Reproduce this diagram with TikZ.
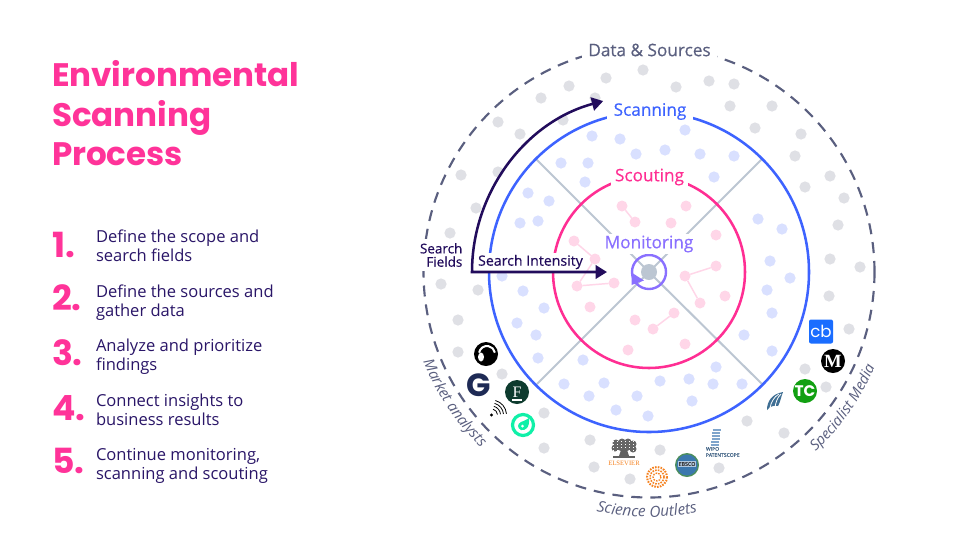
\documentclass[tikz,border=0pt]{standalone}
\usepackage{fontspec}
\setmainfont{Open Sans}
\newfontfamily\popp{Poppins}
\newfontfamily\osmed[FakeBold=0.4]{Open Sans}
\newfontfamily\lserif{Liberation Serif}
\usetikzlibrary{arrows.meta,decorations.text}
\definecolor{cpink}{HTML}{FF3399}
\definecolor{cnavy}{HTML}{2A1668}
\definecolor{cdeep}{HTML}{220C5C}
\definecolor{cslate}{HTML}{5A5F7F}
\definecolor{cblue}{HTML}{3D63FF}
\definecolor{cscout}{HTML}{FF2E93}
\definecolor{cmon}{HTML}{8A70FF}
\definecolor{dgray}{HTML}{DFE0E5}
\definecolor{dblue}{HTML}{D9E0FF}
\definecolor{dpink}{HTML}{FFD6E8}
\definecolor{cline}{HTML}{BCC6D2}
\definecolor{lgnavy}{HTML}{1E2A55}
\definecolor{lfgreen}{HTML}{0E3B2E}
\definecolor{lmint}{HTML}{10F0A8}
\definecolor{lorange}{HTML}{F58220}
\definecolor{lebsco}{HTML}{3B78AE}
\definecolor{lebedge}{HTML}{4D8F5D}
\definecolor{lwipo}{HTML}{5F8FBF}
\definecolor{lwave}{HTML}{3F6F94}
\definecolor{ltc}{HTML}{12A012}
\definecolor{lcb}{HTML}{1A6DFF}
\tikzset{
  base/.style={inner sep=0pt,outer sep=0pt},
  gdot/.style={fill=dgray},
  bdot/.style={fill=dblue},
  pdot/.style={base,circle,fill=dpink,minimum size=8.25pt},
  plink/.style={dpink,line width=1.1pt},
  spoke/.style={cline,line width=1.5pt},
  ringblue/.style={cblue,line width=1.9pt},
  ringpink/.style={cscout,line width=1.9pt},
  ringdash/.style={cslate,line width=1.6pt,dash pattern=on 8.25pt off 6pt},
  ringlabel/.style={base,fill=white,inner xsep=4pt,inner ysep=2pt,font=\osmed\fontsize{12.9pt}{15pt}\selectfont},
  navyarrow/.style={cdeep,line width=1.9pt,miter limit=10,{Triangle[length=8.5pt,width=10pt]}-{Triangle[length=8.5pt,width=10pt]}},
  numlabel/.style={base,anchor=base west,text=cpink,font=\popp\bfseries\fontsize{26pt}{30pt}\selectfont},
  steplabel/.style={base,anchor=base west,align=left,text=cnavy,font=\fontsize{12.4pt}{14.25pt}\selectfont},
  arclabel/.style={decorate,decoration={text along path,text align=center,raise=0pt,text={#1}}},
}
\begin{document}
\begin{tikzpicture}[x=0.75pt,y=-0.75pt]
\useasboundingbox (0,0) rectangle (966,544);
\fill[white] (0,0) rectangle (966,544);

% title and steps
\node[base,anchor=north west,align=left,text=cpink,font=\popp\bfseries\fontsize{24.4pt}{29.6pt}\selectfont] (title) at (52,60.5) {Environmental\\Scanning\\Process};
\node[numlabel] (n1) at (52,257) {1.};
\node[numlabel] (n2) at (52,310) {2.};
\node[numlabel] (n3) at (52,365) {3.};
\node[numlabel] (n4) at (52,420) {4.};
\node[numlabel] (n5) at (52,473) {5.};
\node[steplabel] (s1) at (96,261) {Define the scope and\\search fields};
\node[steplabel] (s2) at (96,316) {Define the sources and\\gather data};
\node[steplabel] (s3) at (96,370) {Analyze and prioritize\\findings};
\node[steplabel] (s4) at (96,425) {Connect insights to\\business results};
\node[steplabel] (s5) at (96,479) {Continue monitoring,\\scanning and scouting};

% dots
\foreach \x/\y in {643/70,606/78,569/86,541/98,595/98,498/122,520/134,563/120,461/175,498/172,476/208,450/233,441/284,478/290,676/87,709/81,734/84,730/106,772/106,755/128,801/134,795/156,830/176,805/187,844/198,838/225,830/259,860/267,458/320,458/352,502/374,544/413,544/448,590/440,594/467,630/479,660/450,829/296,849/329,805/369,826/387,747/421,784/433,719/468}
  \fill[gdot] (\x,\y) circle[radius=5.6];
\foreach \x/\y in {592/136,620/139,636/154,665/150,561/163,588/163,585/182,528/193,549/201,520/223,538/221,502/276,523/291,685/130,700/154,734/156,714/177,758/219,782/229,770/261,790/278,767/290,544/308,517/323,536/335,538/358,583/360,564/384,604/383,589/396,616/410,637/396,648/416,660/381,772/313,744/335,772/351,716/367,689/379,713/384,742/384,692/401}
  \fill[bdot] (\x,\y) circle[radius=5.6];

% spokes
\coordinate (cc) at (649,272);
\coordinate (e1) at (535,158);
\coordinate (e2) at (762,159);
\coordinate (e3) at (537,384);
\coordinate (e4) at (762,384);
\draw[spoke] (e1) -- (cc);
\draw[spoke] (e2) -- (cc);
\draw[spoke] (e3) -- (cc);
\draw[spoke] (e4) -- (cc);

% pink dots with links
\node[pdot] (p1) at (622,206) {};
\node[pdot] (p2) at (635,222) {};
\node[pdot] (p3) at (686,206) {};
\node[pdot] (p4) at (671,223) {};
\node[pdot] (p5) at (716,235) {};
\node[pdot] (p6) at (574,241) {};
\node[pdot] (p7) at (595,259) {};
\node[pdot] (p8) at (577,286) {};
\node[pdot] (p9) at (614,283) {};
\node[pdot] (p10) at (590,307) {};
\node[pdot] (p11) at (685,276) {};
\node[pdot] (p12) at (716,266) {};
\node[pdot] (p13) at (700,303) {};
\node[pdot] (p14) at (725,296) {};
\node[pdot] (p15) at (635,320) {};
\node[pdot] (p16) at (653,329) {};
\node[pdot] (p17) at (674,313) {};
\node[pdot] (p18) at (685,344) {};
\node[pdot] (p19) at (628,350) {};
\draw[plink] (p1) -- (p2);
\draw[plink] (p6) -- (p7);
\draw[plink] (p7) -- (p8);
\draw[plink] (p8) -- (p9);
\draw[plink] (p11) -- (p12);
\draw[plink] (p11) -- (p13);
\draw[plink] (p16) -- (p17);

% rings
\draw[ringdash] (cc) circle[radius=225.5];
\draw[ringblue] (cc) circle[radius=160];
\draw[ringpink] (cc) circle[radius=96];

% centre
\fill[cline] (cc) circle[radius=8];
\draw[cmon,line width=1.8pt] (cc) circle[radius=17];
\fill[cmon] (631.5,285) -- (631.5,272.5) -- (644,280.5) -- cycle;

% ring labels
\node[ringlabel,text=cslate,inner xsep=5pt] (data) at (649.5,50) {Data \& Sources};
\node[ringlabel,text=cblue,inner xsep=5pt] (scan) at (650,111.5) {Scanning};
\node[ringlabel,text=cscout,inner xsep=3pt] (scout) at (649.5,177) {Scouting};
\node[base,fill=white,text=cmon,inner xsep=2pt,inner ysep=1pt,font=\osmed\fontsize{12.9pt}{15pt}\selectfont] (moni) at (649,244) {Monitoring};
\node[base,fill=white,anchor=center,text=cdeep,minimum width=79pt,minimum height=14pt,font=\osmed\fontsize{10.6pt}{12pt}\selectfont] (intens) at (530.5,262) {Search Intensity};
\node[base,fill=white,anchor=east,align=right,text=cdeep,inner xsep=2pt,inner ysep=3pt,font=\osmed\fontsize{10.1pt}{10pt}\selectfont] (fields) at (465,255) {Search\\Fields};

% search arrows
\draw[navyarrow] (607,272) -- (472,272) arc[start angle=180,end angle=255,radius=177];

% outer curved labels
\path[arclabel={|\itshape\fontsize{11.2pt}{14pt}\selectfont\color{cslate}|Market analysts}] (cc) ++(159:243) arc[start angle=159,end angle=133,radius=243];
\path[arclabel={|\itshape\fontsize{11.5pt}{14pt}\selectfont\color{cslate}|Science Outlets}] (cc) ++(102:245) arc[start angle=102,end angle=79,radius=245];
\path[arclabel={|\itshape\fontsize{11pt}{14pt}\selectfont\color{cslate}|Specialist Media}] (cc) ++(47.5:245) arc[start angle=47.5,end angle=22.5,radius=245];

% logos: market analysts
\fill[black] (486,354) circle[radius=12];
\draw[white,line width=1.5pt] (487,354) ++(190:8) arc[start angle=190,end angle=350,radius=8];
\fill[white] (481,357) ellipse[x radius=3,y radius=4.5];
\node[base,text=lgnavy,font=\popp\bfseries\fontsize{24pt}{26pt}\selectfont] (glogo) at (479,385) {G};
\node[base,circle,fill=lfgreen,minimum size=18pt,text=white,font=\lserif\fontsize{12pt}{12pt}\selectfont] (flogo) at (517,392) {F};
\draw[white,line width=0.8pt] (512,400) -- (522,400);
\fill[black] (491.5,415) circle[radius=1.6];
\foreach \r in {6,9,12,15}
  \draw[black,line width=0.6pt] (491.5,415) ++(-75:\r) arc[start angle=-75,end angle=-5,radius=\r];
\draw[lmint,line width=2.4pt] (523,425) circle[radius=10.5];
\fill[lmint] (529,418) .. controls (530,428) and (525,431) .. (521,430) .. controls (517,428) and (517,424) .. (521,422) .. controls (524,421) and (526,420) .. (529,418) -- cycle;
\fill[white] (522.5,426) circle[radius=1.5];

% logos: science outlets
\foreach \x/\y/\r in {616/443/3.5,622/442/3.5,628/442/3.5,633/444/3.5,615/448/3.5,621/447/4,627/447/4,633/449/3.5}
  \fill[black!60] (\x,\y) circle[radius=\r];
\foreach \y in {441.5,444.5,447.5,450.5}
  \draw[white,line width=0.35pt,dash pattern=on 1pt off 2pt] (613,\y) -- (635,\y);
\fill[black!62] (621,450) -- (627,450) -- (629,456) -- (619,456) -- cycle;
\fill[black!62] (613,456) rectangle (635,458);
\node[base,text=lorange,font=\lserif\fontsize{5pt}{5pt}\selectfont] (elsevier) at (624,463) {ELSEVIER};
\foreach \r/\w in {10/1.5,7/1.2,4/1}
  \draw[lorange,line width=\w pt,dash pattern=on 1.2pt off 0.9pt] (657,477) circle[radius=\r];
\fill[lebedge] (687,465) circle[radius=12];
\fill[lebsco] (687,465) circle[radius=10.5];
\node[base,fill=lebsco!40!white,text=black!80,inner xsep=0.7pt,inner ysep=0.5pt,font=\osmed\fontsize{4pt}{4pt}\selectfont] (ebsco) at (687,464) {EBSCO};
\foreach \y/\d in {430/1,433/0.5,436/0,439/0,442/-0.5,445/-1}
  \draw[lwipo!80!white,line width=1.1pt] (711.5+\d,\y) -- (719.5+\d,\y);
\node[base,anchor=north west,align=left,text=lwipo!70!black,font=\osmed\fontsize{3.8pt}{4.6pt}\selectfont] (wipo) at (706,447) {WIPO\\PATENTSCOPE};

% logos: specialist media
\fill[lwave] (767,410) .. controls (767,401) and (772,394) .. (783,392) .. controls (781,397) and (780,403) .. (778,406) .. controls (775,405) and (770,406) .. (767,410) -- cycle;
\draw[white,line width=0.6pt] (770,408) .. controls (771,402) and (774,397) .. (779,394);
\draw[white,line width=0.6pt] (775,407) .. controls (776,402) and (777,398) .. (781,394);
\node[base,circle,fill=ltc,minimum size=18pt,text=white,font=\popp\bfseries\fontsize{11.5pt}{11pt}\selectfont] (tc) at (805,391) {TC};
\node[base,circle,fill=black,minimum size=18pt,text=white,font=\lserif\bfseries\fontsize{14pt}{14pt}\selectfont] (mlogo) at (833,361) {M};
\node[base,fill=lcb,rounded corners=1.5pt,minimum size=18pt,text=white,font=\popp\fontsize{12.5pt}{13pt}\selectfont] (cblogo) at (821,331.5) {cb};
\end{tikzpicture}
\end{document}
